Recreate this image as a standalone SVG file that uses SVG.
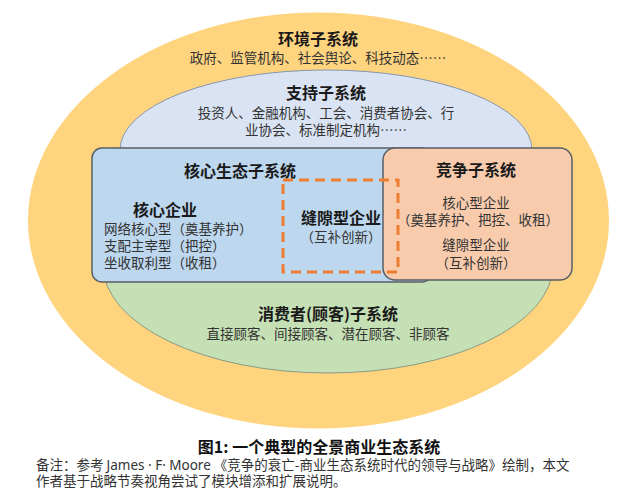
<svg xmlns="http://www.w3.org/2000/svg" width="633" height="500" viewBox="0 0 633 500">
<style>
text{font-family:"Noto Sans CJK SC","Noto Sans",sans-serif;fill:#262626;text-anchor:middle}
.t{font-size:16px;font-weight:bold;fill:#1a1a1a}
.b{font-size:13.5px;fill:#333}
.l{text-anchor:start}
.cap{font-size:16px;font-weight:bold;fill:#111}
.note{font-size:13.5px;fill:#333;text-anchor:start}
.lat{font-family:"Noto Sans","Liberation Sans",sans-serif}
</style>
<rect width="633" height="500" fill="#ffffff"/>
<g id="environment">
<ellipse cx="318.5" cy="220.5" rx="290.5" ry="208" fill="#ffd47f"/>
<text class="t" x="318" y="45">环境子系统</text>
<text class="b" x="318" y="63">政府、监管机构、社会舆论、科技动态……</text>
</g>
<g id="support">
<ellipse cx="326" cy="150" rx="206" ry="80" fill="#dae3f3" stroke="#8497b0" stroke-width="1"/>
<text class="t" x="326" y="99">支持子系统</text>
<text class="b" x="326" y="118">投资人、金融机构、工会、消费者协会、行</text>
<text class="b" x="326" y="135">业协会、标准制定机构……</text>
</g>
<g id="consumer">
<ellipse cx="328" cy="265" rx="225" ry="108" fill="#c5e0b4" stroke="#8c9a84" stroke-width="1"/>
<text class="t" x="328" y="320">消费者(顾客)子系统</text>
<text class="b" x="328" y="339">直接顾客、间接顾客、潜在顾客、非顾客</text>
</g>
<g id="core">
<rect x="92" y="148" width="340" height="134" rx="10" fill="#bdd7ee" stroke="#5a5f66" stroke-width="1.5"/>
<text class="t" x="240" y="177">核心生态子系统</text>
<text class="t" x="165" y="216">核心企业</text>
<text class="b l" x="104" y="234">网络核心型（奠基养护）</text>
<text class="b l" x="104" y="251">支配主宰型（把控）</text>
<text class="b l" x="104" y="268">坐收取利型（收租）</text>
</g>
<g id="competition">
<rect x="383" y="148" width="189" height="132" rx="12" fill="#f8cbad" stroke="#5a5f66" stroke-width="1.5"/>
<text class="t" x="476" y="176">竞争子系统</text>
<text class="b" x="476" y="208">核心型企业</text>
<text class="b" x="478" y="225">（奠基养护、把控、收租）</text>
<text class="b" x="476" y="250">缝隙型企业</text>
<text class="b" x="476" y="268">（互补创新）</text>
</g>
<g id="niche">
<rect x="283" y="180" width="115" height="92" fill="none" stroke="#ed7d31" stroke-width="3" stroke-dasharray="10 6"/>
<text class="t" x="341" y="224">缝隙型企业</text>
<text class="b" x="341" y="242">（互补创新）</text>
</g>
<g id="connectors"></g>
<g id="caption">
<text class="cap" x="319" y="453">图1: 一个典型的全景商业生态系统</text>
<text class="note" x="36" y="470">备注：参考 <tspan class="lat">James · F· Moore</tspan> 《竞争的衰亡-商业生态系统时代的领导与战略》绘制，本文</text>
<text class="note" x="36" y="486">作者基于战略节奏视角尝试了模块增添和扩展说明。</text>
</g>
</svg>
